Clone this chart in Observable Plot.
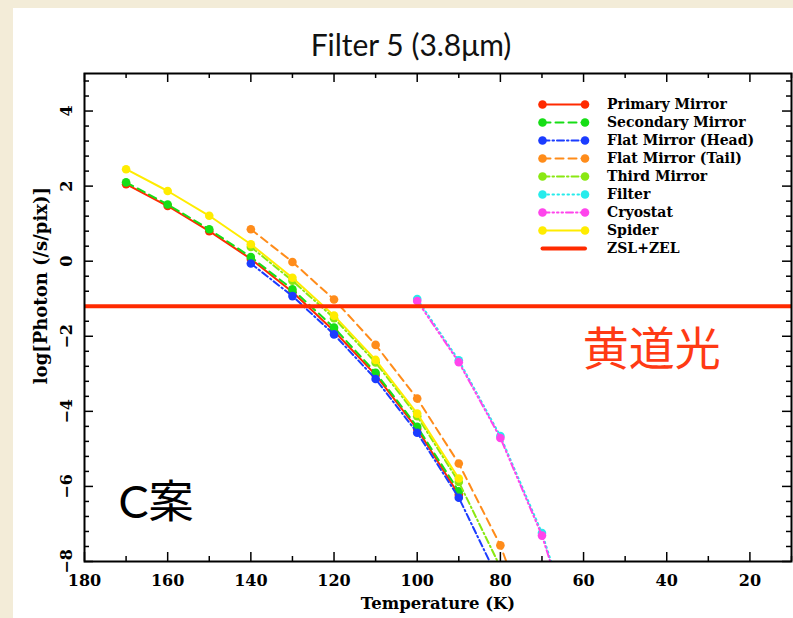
<!DOCTYPE html>
<html>
<head>
<meta charset="utf-8">
<script src="https://cdn.jsdelivr.net/npm/d3@7"></script>
<script src="https://cdn.jsdelivr.net/npm/@observablehq/plot@0.6"></script>
<style>
  html, body { margin: 0; padding: 0; }
  body { width: 793px; height: 618px; background: #f3ecd8; position: relative; overflow: hidden; }
  #panel { position: absolute; left: 13px; top: 8px; right: 0; bottom: 0; background: #fff; }
  #title { position: absolute; left: 0; width: 822px; top: 26px; line-height: 36px; text-align: center;
           font-family: Lato, "Open Sans", sans-serif; font-size: 30px; color: #111; }
  #chart, #legend { position: absolute; top: 0; left: 0; }
  #legend { left: 520px; top: 87px; }
  svg { overflow: visible; }
</style>
</head>
<body>
<div id="panel"></div>
<div id="title">Filter 5 (3.8μm)</div>
<div id="chart"></div>
<div id="legend"></div>
<script>
// Temperatures (K) at which each component's photon rate was computed
const tempsK = [170, 160, 150, 140, 130, 120, 110, 100, 90, 80, 70, 60];

// log10 photon rate (/s/pix) per component; null = not computed
const primaryMirror   = [2.05, 1.47, 0.80, 0.06, -0.82, -1.86, -3.03, -4.47, -6.22, null, null, null];
const secondaryMirror = [2.10, 1.51, 0.85, 0.11, -0.75, -1.77, -2.97, -4.41, -6.13, null, null, null];
const flatMirrorHead  = [null, null, null, -0.06, -0.93, -1.95, -3.14, -4.57, -6.30, -8.59, null, null];
const flatMirrorTail  = [null, null, null, 0.85, -0.02, -1.02, -2.23, -3.66, -5.39, -7.57, -10.6, null];
const thirdMirror     = [null, null, null, 0.38, -0.52, -1.52, -2.70, -4.13, -5.88, -8.15, null, null];
const filterBody      = [null, null, null, null, null, null, null, -1.01, -2.64, -4.66, -7.24, -10.7];
const cryostat        = [null, null, null, null, null, null, null, -1.06, -2.69, -4.71, -7.31, -10.8];
const spider          = [2.45, 1.87, 1.21, 0.45, -0.44, -1.45, -2.63, -4.06, -5.79, null, null, null];

// Zodiacal light + zodiacal emission level
const zslZel = -1.2;

// Axis ticks
const xMajorTicks = [180, 160, 140, 120, 100, 80, 60, 40, 20];
const xMinorTicks = [170, 150, 130, 110, 90, 70, 50, 30, 10];
const yMajorTicks = [-8, -6, -4, -2, 0, 2, 4];
const yMinorTicks = d3.range(-8, 5.001, 0.4).map(v => +v.toFixed(1)).filter(v => !yMajorTicks.includes(v));

const seriesNames = ["Primary Mirror", "Secondary Mirror", "Flat Mirror (Head)", "Flat Mirror (Tail)",
                     "Third Mirror", "Filter", "Cryostat", "Spider"];
const seriesValues = [primaryMirror, secondaryMirror, flatMirrorHead, flatMirrorTail,
                      thirdMirror, filterBody, cryostat, spider];
const zslName = "ZSL+ZEL";

// Drawing styles per series
const seriesColors = ["#ff2a00", "#16de16", "#1b3cff", "#ff8c1a", "#8ae812", "#26ecec", "#ff45ec", "#ffec00"];
const seriesDashes = [null, "8,5", "7,3,1.5,3", "8,5", "7,3,1.5,3", "1.5,3.5", "7,3,1.5,3,1.5,3,1.5,3", null];
const zslColor = "#ff2a00";

const serif = "'DejaVu Serif', serif";
const W = 793, H = 618;
const mL = 84, mR = 2, mT = 73, mB = 57;
const frameW = W - mL - mR, frameH = H - mT - mB;

const seriesData = seriesValues.map(vals =>
  tempsK.map((t, i) => ({t, v: vals[i]})).filter(d => d.v != null));

const lineMarks = seriesData.flatMap((data, k) => [
  Plot.line(data, {x: "t", y: "v", stroke: seriesColors[k], strokeWidth: 2,
                   strokeDasharray: seriesDashes[k], clip: true}),
  Plot.dot(data, {x: "t", y: "v", r: 4.3, fill: seriesColors[k], stroke: "none", clip: true})
]);

const labelStyle = {fontWeight: "bold", fontFamily: serif, fill: "#000", textAnchor: "middle", lineAnchor: "middle"};

const chart = Plot.plot({
  width: W, height: H,
  marginLeft: mL, marginRight: mR, marginTop: mT, marginBottom: mB,
  x: {domain: [180, 10], axis: null},
  y: {domain: [-8, 5], axis: null},
  style: {background: "transparent"},
  marks: [
    // inward ticks on all four sides
    Plot.tickX(xMajorTicks, {x: d => d, insetTop: frameH - 9, stroke: "#000", strokeWidth: 1.5}),
    Plot.tickX(xMajorTicks, {x: d => d, insetBottom: frameH - 9, stroke: "#000", strokeWidth: 1.5}),
    Plot.tickX(xMinorTicks, {x: d => d, insetTop: frameH - 5, stroke: "#000", strokeWidth: 1.5}),
    Plot.tickX(xMinorTicks, {x: d => d, insetBottom: frameH - 5, stroke: "#000", strokeWidth: 1.5}),
    Plot.tickY(yMajorTicks, {y: d => d, insetRight: frameW - 9, stroke: "#000", strokeWidth: 1.5}),
    Plot.tickY(yMajorTicks, {y: d => d, insetLeft: frameW - 9, stroke: "#000", strokeWidth: 1.5}),
    Plot.tickY(yMinorTicks, {y: d => d, insetRight: frameW - 5, stroke: "#000", strokeWidth: 1.5}),
    Plot.tickY(yMinorTicks, {y: d => d, insetLeft: frameW - 5, stroke: "#000", strokeWidth: 1.5}),
    ...lineMarks,
    Plot.ruleY([zslZel], {stroke: zslColor, strokeWidth: 4}),
    Plot.frame({stroke: "#000", strokeWidth: 2}),
    // tick labels
    Plot.text(xMajorTicks, {x: d => d, frameAnchor: "bottom", dy: 19, text: d => String(d),
      fontSize: 16, ...labelStyle}),
    Plot.text(yMajorTicks, {y: d => d, frameAnchor: "left", dx: -18, rotate: -90,
      text: d => d < 0 ? "\u2212" + (-d) : String(d), fontSize: 16, ...labelStyle}),
    // axis titles
    Plot.text(["Temperature (K)"], {frameAnchor: "bottom", dy: 42, text: d => d,
      fontSize: 16.5, ...labelStyle}),
    Plot.text(["log[Photon (/s/pix)]"], {frameAnchor: "left", dx: -43, y: -0.65, rotate: -90, text: d => d,
      fontSize: 18, ...labelStyle}),
    // annotations
    Plot.text(["黄道光"], {x: 43.6, y: -2.37, text: d => d, fontSize: 46,
      fontFamily: "'Noto Sans CJK JP', sans-serif", fill: "#ff3a14"}),
    Plot.text(["C案"], {x: 162.8, y: -6.47, text: d => d, fontSize: 45,
      fontFamily: "Lato, 'Noto Sans CJK JP', sans-serif", fill: "#000"})
  ]
});
document.getElementById("chart").appendChild(chart);

// Legend: one row per series plus the ZSL+ZEL level
const legendRows = [...seriesNames, zslName];
const legendMarks = [];
seriesNames.forEach((name, k) => {
  const seg = [{x: 0, row: name}, {x: 1, row: name}];
  legendMarks.push(Plot.line(seg, {x: "x", y: "row", stroke: seriesColors[k], strokeWidth: 2,
                                   strokeDasharray: seriesDashes[k]}));
  legendMarks.push(Plot.dot(seg, {x: "x", y: "row", r: 4.3, fill: seriesColors[k], stroke: "none"}));
});
legendMarks.push(Plot.line([{x: 0, row: zslName}, {x: 1, row: zslName}],
  {x: "x", y: "row", stroke: zslColor, strokeWidth: 4}));
legendMarks.push(Plot.text(legendRows, {x: () => 1, y: d => d, dx: 22, text: d => d, textAnchor: "start",
  fontSize: 14, fontWeight: "bold", fontFamily: serif, fill: "#000"}));

const legend = Plot.plot({
  width: 273, height: 180,
  margin: 0,
  x: {domain: [0, 1], range: [22, 64.5], axis: null},
  y: {type: "point", domain: legendRows, range: [13.7, 164.7], padding: 0, axis: null},
  style: {background: "transparent"},
  marks: legendMarks
});
document.getElementById("legend").appendChild(legend);
</script>
</body>
</html>
